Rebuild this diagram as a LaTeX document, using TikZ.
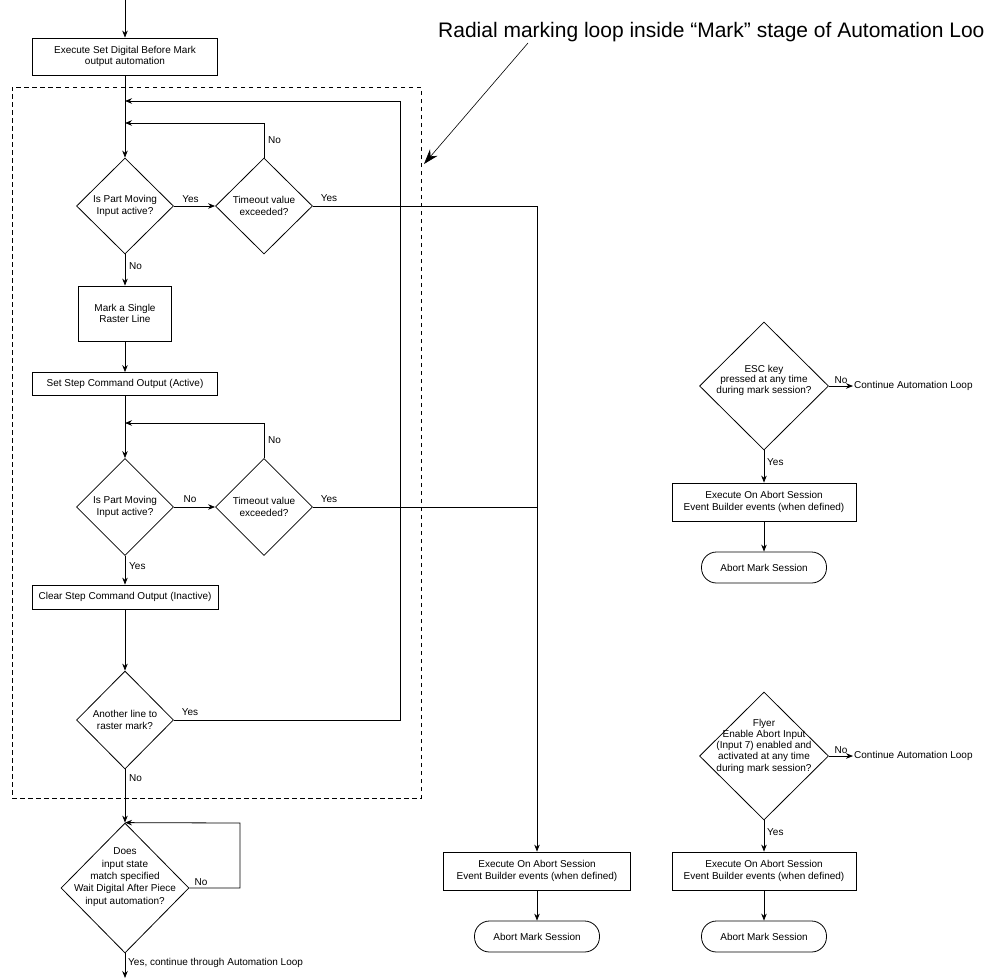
\documentclass[tikz,border=0pt]{standalone}
\usepackage{fontspec}
\setmainfont{Liberation Sans}
\usetikzlibrary{shapes.geometric,arrows.meta}
\begin{document}
\begin{tikzpicture}[x=1pt,y=-1pt,
  every node/.style={font=\fontsize{10}{11.7}\selectfont, text=black},
  proc/.style={draw, line width=0.8pt, rectangle, inner sep=0pt, align=center},
  dia/.style={draw, line width=0.8pt, diamond, inner sep=0pt},
  dtext/.style={inner sep=0pt, align=center, font=\fontsize{10}{11.3}\selectfont},
  term/.style={draw, line width=0.8pt, rectangle, rounded corners=15pt, minimum width=125pt, minimum height=31pt, inner sep=0pt},
  lbl/.style={inner sep=0pt},
  ln/.style={line width=0.8pt},
  arr/.style={line width=0.8pt, -{Stealth[length=7pt,width=5.5pt]}},
  loopbox/.style={draw, line width=0.7pt, dash pattern=on 4.5pt off 3.5pt, inner sep=0pt}
]
\useasboundingbox (0,0) rectangle (984,978);

% ---------- main column ----------
\coordinate (top) at (125,0);
\node[proc, minimum width=185pt, minimum height=37pt] (b1) at (125,56.5) {Execute Set Digital Before Mark\\output automation};
\node[loopbox, minimum width=409pt, minimum height=711pt] (lb) at (216.5,442.5) {};

\coordinate (j1) at (125,101);
\coordinate (j2) at (125,123);
\coordinate (j3) at (125,423);

\node[dia, minimum width=97pt, minimum height=96pt] (d1) at (125,206) {};
\node[dtext] at (d1) {Is Part Moving\\Input active?};
\node[dia, minimum width=97pt, minimum height=96pt] (d2) at (264,206) {};
\node[dtext] at (d2) {Timeout value\\exceeded?};

\node[proc, minimum width=93pt, minimum height=55pt] (b2) at (125,313.5) {Mark a Single\\Raster Line};
\node[proc, minimum width=185pt, minimum height=23pt] (b3) at (125,384) {Set Step Command Output (Active)};

\node[dia, minimum width=97pt, minimum height=97pt] (d3) at (125,507) {};
\node[dtext] at (d3) {Is Part Moving\\Input active?};
\node[dia, minimum width=97pt, minimum height=97pt] (d4) at (264,507) {};
\node[dtext] at (d4) {Timeout value\\exceeded?};

\node[proc, minimum width=186pt, minimum height=24pt] (b4) at (125,597) {Clear Step Command Output (Inactive)};

\node[dia, minimum width=97pt, minimum height=98pt] (d5) at (125,720) {};
\node[dtext] at (d5) {Another line to\\raster mark?};

\node[dia, minimum width=128pt, minimum height=130pt] (d6) at (125,888) {};
\node[dtext, font=\fontsize{10}{12.4}\selectfont] at (125,877) {Does\\input state\\match specified\\Wait Digital After Piece\\input automation?};
\coordinate (bot) at (125,978);

\coordinate (r2) at (400,720);
\coordinate (r1) at (400,101);
\coordinate (k1) at (240,888);
\coordinate (k2) at (240,823);
\coordinate (y1) at (537,206);
\coordinate (y2) at (537,507);

% ---------- middle abort ----------
\node[proc, minimum width=187pt, minimum height=38pt] (b5) at (537,871) {Execute On Abort Session\\Event Builder events (when defined)};
\node[term] (t1) at (537,936.5) {Abort Mark Session};

% ---------- ESC branch ----------
\node[dia, minimum width=129pt, minimum height=128pt] (d7) at (764,386) {};
\node[dtext, font=\fontsize{10}{10.5}\selectfont] at (764,380) {ESC key\\pressed at any time\\during mark session?};
\node[lbl, anchor=west, inner sep=1pt] (c1) at (853,386) {Continue Automation Loop};
\node[proc, minimum width=184pt, minimum height=38pt] (b6) at (764,502) {Execute On Abort Session\\Event Builder events (when defined)};
\node[term] (t2) at (764,567.5) {Abort Mark Session};

% ---------- Flyer branch ----------
\node[dia, minimum width=129pt, minimum height=128pt] (d8) at (764,756) {};
\node[dtext, font=\fontsize{10}{11.2}\selectfont] at (764,746) {Flyer\\Enable Abort Input\\(Input 7) enabled and\\activated at any time\\during mark session?};
\node[lbl, anchor=west, inner sep=1pt] (c2) at (853,756) {Continue Automation Loop};
\node[proc, minimum width=184pt, minimum height=38pt] (b7) at (764,871) {Execute On Abort Session\\Event Builder events (when defined)};
\node[term] (t3) at (764,936.5) {Abort Mark Session};

% ---------- annotation ----------
\node[lbl, anchor=base west, font=\fontsize{21}{25}\selectfont] (note) at (438,37.5) {Radial marking loop inside “Mark” stage of Automation Loop};
\coordinate (na) at (528,43);
\coordinate (nb) at (424,164);
\draw[line width=0.6pt, -{Stealth[length=15pt,width=10pt]}] (na) -- (nb);

% ---------- connectors ----------
\draw[arr] (top) -- (b1);
\draw[arr] (b1) -- (d1);
\draw[arr] (d5.east) -- (r2) -- (r1) -- (j1);
\draw[arr] (d2.north) -- (d2.north |- j2) -- (j2);
\draw[arr] (d1) -- (d2);
\draw[arr] (d2.east) -- (y1) -- (b5.north);
\draw[ln] (d4.east) -- (y2);
\draw[arr] (d1) -- (b2);
\draw[arr] (b2) -- (b3);
\draw[arr] (b3) -- (d3);
\draw[arr] (d4.north) -- (d4.north |- j3) -- (j3);
\draw[arr] (d3) -- (d4);
\draw[arr] (d3) -- (b4);
\draw[arr] (b4) -- (d5);
\draw[arr] (d5) -- (d6);
\draw[arr] (d6.east) -- (k1) -- (k2) -- (d6.north);
\draw[arr] (d6) -- (bot);
\draw[arr] (b5) -- (t1);

\draw[arr] (d7.east) -- (c1.west);
\draw[arr] (d7) -- (b6);
\draw[arr] (b6) -- (t2);
\draw[arr] (d8.east) -- (c2.west);
\draw[arr] (d8) -- (b7);
\draw[arr] (b7) -- (t3);

% ---------- labels ----------
\node[lbl] at (190.5,199) {Yes};
\node[lbl, anchor=west] at (268,140) {No};
\node[lbl] at (329,198) {Yes};
\node[lbl, anchor=west] at (129,266) {No};
\node[lbl, anchor=west] at (268,440) {No};
\node[lbl] at (190,499) {No};
\node[lbl] at (329,499) {Yes};
\node[lbl, anchor=west] at (129,566) {Yes};
\node[lbl] at (190,712) {Yes};
\node[lbl, anchor=west] at (129,778) {No};
\node[lbl] at (201,882) {No};
\node[lbl, anchor=west] at (128,963) {Yes, continue through Automation Loop};
\node[lbl] at (841,380) {No};
\node[lbl, anchor=west] at (767,462) {Yes};
\node[lbl] at (841,750) {No};
\node[lbl, anchor=west] at (767,832) {Yes};
\end{tikzpicture}
\end{document}
